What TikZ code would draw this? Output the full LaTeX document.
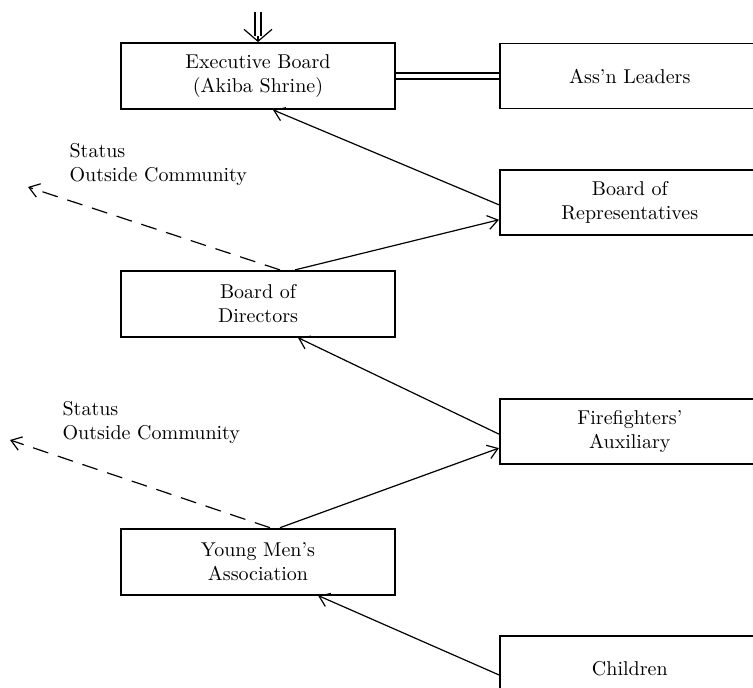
\documentclass[tikz,border=0pt]{standalone}
\usepackage{tikz}
\usetikzlibrary{positioning, arrows.meta}

\begin{document}
\begin{tikzpicture} [x=0.5pt, y=-0.5pt, line width=0.6pt, ->, >={Straight Barb[length=5pt,width=7pt]},
	leftbox/.style={draw, solid, line width=0.9pt, minimum width=137pt, minimum height=33pt, align=center, inner sep=2pt},
	rightbox/.style={draw, solid, line width=0.9pt, minimum width=130pt, minimum height=32.5pt, align=center, inner sep=2pt},
	outside/.style={dash pattern=on 8pt off 5pt},
	status/.style={align=left, anchor=west, inner sep=0pt}]

\useasboundingbox (0,0) rectangle (753,688);
\clip (0,0) rectangle (753,688);

\node[leftbox]	(exec)	at (258,76)			{Executive Board \\ (Akiba Shrine)};
\node[rightbox]	(assn)	[right=51.5pt of exec]	{Ass'n Leaders};
\node[rightbox]	(bor)		[below=30pt of assn]	{Board of \\ Representatives};
\node[leftbox]	(bod)		[below=80pt of exec]	{Board of \\ Directors};
\node[rightbox]	(ff)		[below=81pt of bor]		{Firefighters' \\ Auxiliary};
\node[leftbox]	(ym)		[below=95pt of bod]	{Young Men's \\ Association};
\node[rightbox]	(children)	[below=85pt of ff]		{Children};

\node[status]	(status1)	at (69,165)		{Status \\ Outside Community};
\node[status]	(status2)	at (62,423)		{Status \\ Outside Community};

\coordinate	(out1)	at (28,187);
\coordinate	(out2)	at (10,440);
\coordinate	[above=15pt of exec.north]	(entry);

% into the board from above
\draw[-, double, double distance=2.4pt]	(entry) -- ([yshift=3pt]exec.north);
\draw[-{Straight Barb[length=6pt,width=14pt]}, shorten <=12pt]	(entry) -- (exec.north);
\draw[-, double, double distance=2.4pt]	(exec.east) -- (exec.east -| assn.west);

\path[->]
		([yshift=-1pt]bor.west)		edge	([xshift=7.5pt]exec.south)
		([xshift=18.5pt]bod.north)	edge	([yshift=-8.5pt]bor.west)
		([xshift=11pt]bod.north)		edge	[outside]	(out1)
		([yshift=-1.25pt]ff.west)		edge	([xshift=20pt]bod.south)
		([xshift=11pt]ym.north)		edge	([yshift=-8.25pt]ff.west)
		([xshift=6pt]ym.north)		edge	[outside]	(out2)
		([yshift=-3.25pt]children.west)	edge	([xshift=30pt]ym.south)
;

\end{tikzpicture}
\end{document}
